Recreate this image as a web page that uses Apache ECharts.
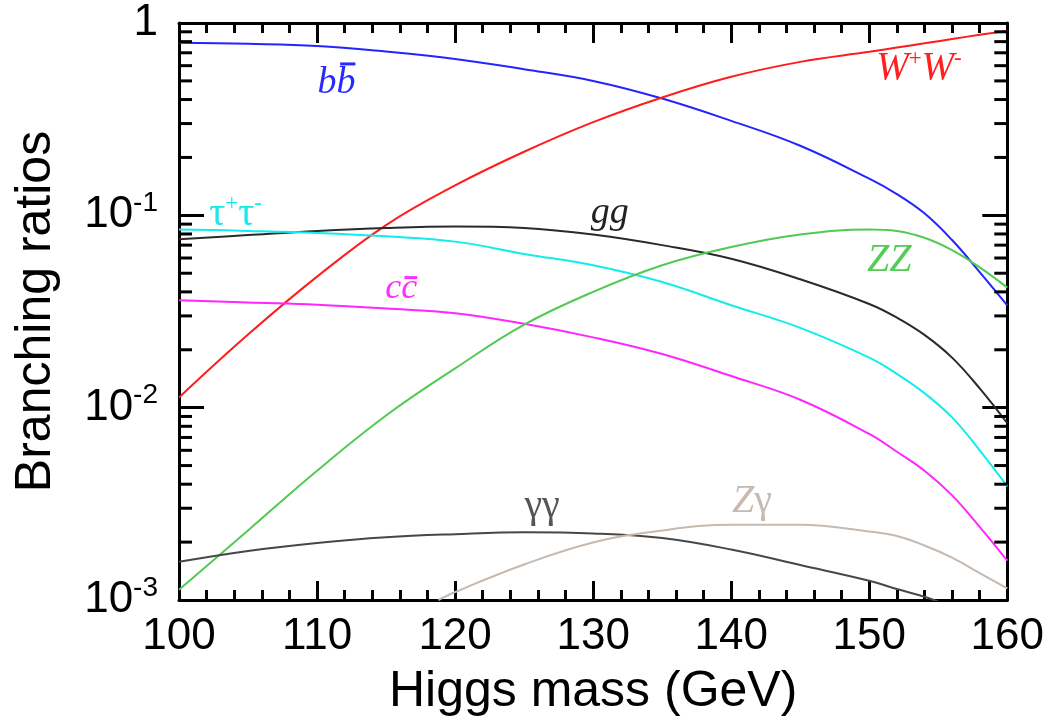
<!DOCTYPE html>
<html>
<head>
<meta charset="utf-8">
<script src="https://cdn.jsdelivr.net/npm/echarts@6/dist/echarts.min.js"></script>
<style>
html,body{margin:0;padding:0;background:#fff;}
#chart{width:1047px;height:722px;}
</style>
</head>
<body>
<div id="chart"></div>
<script>
// ---------------- data ----------------
const masses   = [100, 105, 110, 115, 120, 125, 130, 135, 140, 145, 150, 152, 154, 156, 158, 160];
const brBB     = [0.79, 0.78, 0.76, 0.71, 0.65, 0.575, 0.50, 0.405, 0.31, 0.23, 0.155, 0.129, 0.1024, 0.0744, 0.0507, 0.034];
const brWW     = [0.0113, 0.024, 0.048, 0.089, 0.143, 0.214, 0.305, 0.41, 0.525, 0.628, 0.708, 0.745, 0.784, 0.826, 0.868, 0.91];
const brGG     = [0.075, 0.079, 0.083, 0.086, 0.0875, 0.086, 0.0795, 0.070, 0.0595, 0.0465, 0.0346, 0.0294, 0.0239, 0.0182, 0.0126, 0.0083];
const brTauTau = [0.0845, 0.083, 0.081, 0.0778, 0.073, 0.063, 0.055, 0.045, 0.0341, 0.026, 0.0182, 0.0150, 0.0119, 0.0089, 0.0060, 0.0039];
const brCC     = [0.0362, 0.0352, 0.0343, 0.0328, 0.031, 0.0273, 0.0232, 0.019, 0.0146, 0.011, 0.0073, 0.0059, 0.0047, 0.0035, 0.0024, 0.0016];
const brZZ     = [0.00113, 0.0023, 0.0047, 0.0091, 0.016, 0.027, 0.040, 0.055, 0.0684, 0.0795, 0.0845, 0.083, 0.0764, 0.0659, 0.0536, 0.0421];

const massesGaGa = [100, 105, 110, 115, 120, 125, 130, 135, 140, 145, 150, 152, 154, 155];
const brGaGa     = [0.00158, 0.0018, 0.00198, 0.00212, 0.0022, 0.00225, 0.00222, 0.0021, 0.00183, 0.00152, 0.00126, 0.00114, 0.00104, 0.00098];

const massesZGa = [118.8, 120, 125, 130, 135, 140, 145, 150, 152, 154, 156, 158, 160];
const brZGa     = [0.001, 0.0011, 0.00153, 0.00199, 0.0023, 0.00246, 0.00246, 0.00227, 0.00215, 0.00192, 0.00166, 0.00138, 0.00115];

const xTickValues = [100, 110, 120, 130, 140, 150, 160];
const yTickValues = [0.001, 0.01, 0.1, 1];
const yMinorTicks = [];
for (let e = -3; e < 0; e++) for (let k = 2; k <= 9; k++) yMinorTicks.push(+(k * Math.pow(10, e)).toPrecision(3));

// ---------------- styles ----------------
const curves = [
  {x: masses, y: brBB, color: '#2424ff'},
  {x: masses, y: brWW, color: '#ff1c1c'},
  {x: masses, y: brGG, color: '#2a2a2a'},
  {x: masses, y: brTauTau, color: '#12ecec'},
  {x: masses, y: brCC, color: '#ff26ff'},
  {x: masses, y: brZZ, color: '#52c952'},
  {x: massesGaGa, y: brGaGa, color: '#474747'},
  {x: massesZGa, y: brZGa, color: '#c6bab0'}
];

// annotation anchors (text centre, in data coordinates) and their looks
const annotations = [
  {at: [111.4, 0.488], color: '#2a2aff', size: 38, tokens: [['i', 'b'], ['i', 'b']], over: 1, overK: 0.50},
  {at: [153.6, 0.575], color: '#ff2020', size: 39, tokens: [['i', 'W'], ['s', '+'], ['i', 'W'], ['s', '-']]},
  {at: [104.1, 0.1008], color: '#18e8e8', size: 40, tokens: [['g', 'τ'], ['s', '+'], ['g', 'τ'], ['s', '-']]},
  {at: [131.2, 0.1026], color: '#222222', size: 38, tokens: [['i', 'gg']]},
  {at: [116.1, 0.0417], color: '#ff2cff', size: 36, tokens: [['i', 'c'], ['i', 'c']], over: 1, overK: 0.30},
  {at: [151.45, 0.0584], color: '#55cc55', size: 40, tokens: [['i', 'ZZ']]},
  {at: [126.3, 0.00308], color: '#555555', size: 40, tokens: [['g', 'γγ']]},
  {at: [141.5, 0.00326], color: '#c8bab0', size: 40, tokens: [['i', 'Z'], ['g', 'γ']]}
];

const AXIS_FONT = '"Liberation Sans", Arial, sans-serif';
const SERIF = '"Liberation Serif", "Times New Roman", serif';

const chart = echarts.init(document.getElementById('chart'), null, {renderer: 'canvas'});

const axisLine = {show: true, onZero: false, lineStyle: {color: '#000', width: 3}};

const option = {
  animation: false,
  backgroundColor: '#fff',
  grid: {left: 179, right: 39.5, top: 23, bottom: 112, containLabel: false},
  xAxis: [
    {
      type: 'value', position: 'bottom', min: 100, max: 160, interval: 10,
      axisLine: axisLine,
      axisTick: {show: true, inside: true, length: 19, lineStyle: {color: '#000', width: 3}},
      minorTick: {show: true, splitNumber: 5, length: 10, lineStyle: {color: '#000', width: 3}},
      splitLine: {show: false}, minorSplitLine: {show: false},
      axisLabel: {
        margin: 15, fontSize: 44, fontFamily: AXIS_FONT, color: '#000',
        formatter: v => xTickValues.indexOf(v) >= 0 ? String(v) : ''
      },
      name: 'Higgs mass (GeV)', nameLocation: 'middle', nameGap: 67,
      nameTextStyle: {fontSize: 50, fontFamily: AXIS_FONT, color: '#000'}
    },
    {
      type: 'value', position: 'top', min: 100, max: 160, interval: 10,
      axisLine: axisLine,
      axisTick: {show: true, inside: true, length: 20, lineStyle: {color: '#000', width: 3}},
      minorTick: {show: true, splitNumber: 5, length: 10, lineStyle: {color: '#000', width: 3}},
      splitLine: {show: false}, axisLabel: {show: false}
    }
  ],
  yAxis: [
    {
      type: 'log', logBase: 10, position: 'left', min: 0.001, max: 1,
      axisLine: axisLine,
      axisTick: {show: true, inside: true, length: 25, lineStyle: {color: '#000', width: 3}},
      splitLine: {show: false},
      axisLabel: {
        margin: 21, color: '#000',
        formatter: v => {
          const e = Math.round(Math.log10(v));
          return e === 0 ? '{b|1}' : '{b|10}{s|' + e + '}';
        },
        rich: {
          b: {fontSize: 44, fontFamily: AXIS_FONT, color: '#000', lineHeight: 52},
          s: {fontSize: 28, fontFamily: AXIS_FONT, color: '#000', lineHeight: 28, verticalAlign: 'top'}
        }
      },
      name: 'Branching ratios', nameLocation: 'middle', nameGap: 118,
      nameTextStyle: {fontSize: 50, fontFamily: AXIS_FONT, color: '#000'}
    },
    {
      type: 'log', logBase: 10, position: 'right', min: 0.001, max: 1,
      axisLine: axisLine,
      axisTick: {show: true, inside: true, length: 25, lineStyle: {color: '#000', width: 3}},
      splitLine: {show: false}, axisLabel: {show: false}
    }
  ],
  series: [
    ...curves.map(c => ({
      type: 'line', xAxisIndex: 0, yAxisIndex: 0,
      data: c.x.map((m, i) => [m, c.y[i]]),
      showSymbol: false, symbol: 'none', smooth: 0.4,
      lineStyle: {color: c.color, width: 2}, itemStyle: {color: c.color},
      silent: true, z: 3
    })),
    {
      type: 'custom', xAxisIndex: 0, yAxisIndex: 0, silent: true, z: 4,
      data: yMinorTicks.map(v => [100, v]),
      encode: {x: 0, y: 1},
      renderItem: (params, api) => {
        const v = api.value(1);
        const L = api.coord([100, v]);
        const R = api.coord([160, v]);
        return {
          type: 'group',
          children: [
            {type: 'line', shape: {x1: L[0], y1: L[1], x2: L[0] + 13, y2: L[1]}, style: {stroke: '#000', lineWidth: 3}},
            {type: 'line', shape: {x1: R[0] - 13, y1: R[1], x2: R[0], y2: R[1]}, style: {stroke: '#000', lineWidth: 3}}
          ]
        };
      }
    }
  ]
};
chart.setOption(option);

// ---------------- curve labels ----------------
const measureCtx = document.createElement('canvas').getContext('2d');
function tokenFont(kind, size) {
  if (kind === 'i') return 'italic ' + size + 'px ' + SERIF;
  if (kind === 's') return Math.round(size * 0.58) + 'px ' + SERIF;
  return size + 'px ' + SERIF;
}
const graphics = [];
annotations.forEach(a => {
  const p = chart.convertToPixel({xAxisIndex: 0, yAxisIndex: 0}, a.at);
  const rich = {
    i: {fontFamily: SERIF, fontStyle: 'italic', fontSize: a.size, fill: a.color, lineHeight: a.size * 1.1},
    g: {fontFamily: SERIF, fontSize: a.size, fill: a.color, lineHeight: a.size * 1.1},
    s: {fontFamily: SERIF, fontSize: Math.round(a.size * 0.58), fill: a.color, lineHeight: Math.round(a.size * 0.58), verticalAlign: 'top'}
  };
  const text = a.tokens.map(t => '{' + t[0] + '|' + t[1] + '}').join('');
  graphics.push({
    type: 'text', x: p[0], y: p[1], z: 10, silent: true,
    style: {text: text, rich: rich, fill: a.color, align: 'center', verticalAlign: 'middle'}
  });
  if (a.over !== undefined) {
    const widths = a.tokens.map(t => { measureCtx.font = tokenFont(t[0], a.size); return measureCtx.measureText(t[1]).width; });
    const total = widths.reduce((s, w) => s + w, 0);
    let left = p[0] - total / 2;
    for (let j = 0; j < a.over; j++) left += widths[j];
    const w = widths[a.over];
    graphics.push({
      type: 'rect', z: 10, silent: true,
      shape: {x: left + w * 0.2, y: p[1] - a.size * a.overK - 1.5, width: w * 0.8, height: 3},
      style: {fill: a.color}
    });
  }
});
chart.setOption({graphic: graphics});
</script>
</body>
</html>
